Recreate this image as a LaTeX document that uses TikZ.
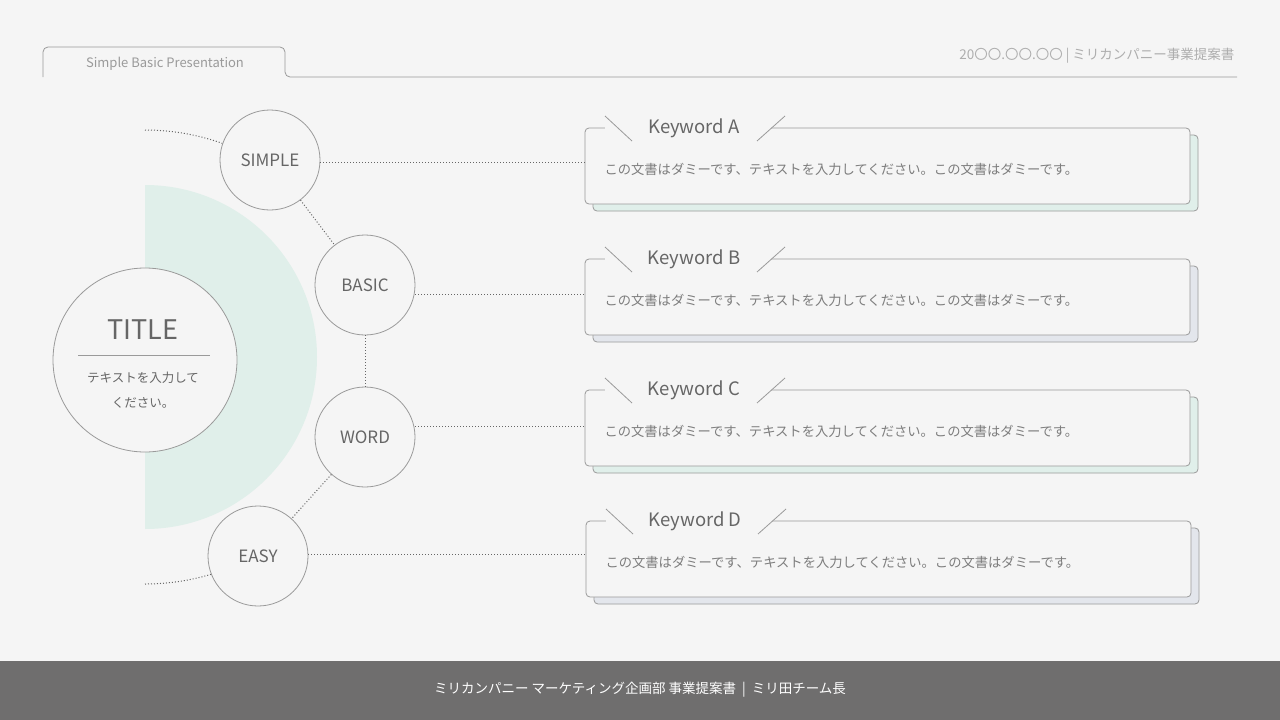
\documentclass[tikz,border=0pt]{standalone}
\usepackage{fontspec}
\setmainfont{Noto Sans CJK JP}
\definecolor{bg}{HTML}{F5F5F5}
\definecolor{mint}{HTML}{E0EFEA}
\definecolor{bluish}{HTML}{E3E6EC}
\definecolor{ln}{HTML}{9A9A9A}
\definecolor{tx}{HTML}{666666}
\definecolor{foot}{HTML}{6F6E6E}
\tikzset{
 kw/.style={draw=ln,line width=0.8pt,circle,minimum size=100pt,inner sep=0pt,font=\fontsize{17}{17}\selectfont,text=tx},
 dot/.style={draw=tx,dotted,line width=1pt},
 mainbox/.style={draw=ln,line width=0.8pt,fill=bg,rounded corners=4pt},
}
\begin{document}
\begin{tikzpicture}[x=1pt,y=-1pt]
\fill[bg] (0,0) rectangle (1280,720);
\useasboundingbox (0,0) rectangle (1280,720);
% header
\draw[ln,line width=0.8pt] (43,77) -- (43,52) arc[start angle=180,end angle=270,radius=5] -- (280,47) arc[start angle=-90,end angle=0,radius=5] -- (285,72) arc[start angle=180,end angle=90,radius=5] -- (1237,77);
\node[text=ln,font=\fontsize{13}{12}\selectfont] (hd) at (165,64) {Simple Basic Presentation};
\node[anchor=east,text=ln!80,font=\fontsize{13.5}{12}\selectfont] (hr) at (1238,56) {20〇〇.〇〇.〇〇 | ミリカンパニー事業提案書};
% half disc
\fill[mint] (145,185) arc[start angle=-90,end angle=90,radius=172] -- cycle;
% outer dotted arc ends
\draw[dot] (145,130) arc[start angle=-90,end angle=-62,radius=230];
\draw[dot] (145,584) arc[start angle=90,end angle=62,radius=230];
% title
\node[draw=ln,line width=0.8pt,fill=bg,circle,minimum size=184pt] (title) at (145,360) {};
\node[text=tx,font=\fontsize{27}{27}\selectfont] (tt) at (143,330) {TITLE};
\draw[ln,line width=0.8pt] (78,355) -- (210,355);
\node[text=tx,align=center,font=\fontsize{12.5}{25}\selectfont] (ts) at (143,390) {テキストを入力して\\ください。};
% keyword circles
\node[kw,fill=bg] (s) at (270,160) {SIMPLE};
\node[kw,fill=bg] (b) at (365,285) {BASIC};
\node[kw,fill=bg] (w) at (365,437) {WORD};
\node[kw,fill=bg] (e) at (258,556) {EASY};
\draw[dot] (s) -- (b); \draw[dot] (b) -- (w); \draw[dot] (w) -- (e);
% boxes
\foreach \n/\x/\y/\c/\t/\ly in {A/585/128/mint/s/162,B/585/259/bluish/b/294,C/585/390/mint/w/426,D/586/521/bluish/e/554}{
  \draw[ln,line width=0.8pt,fill=\c,rounded corners=4pt] (\x+8,\y+7) rectangle (\x+613,\y+83);
  \draw[mainbox] (\x,\y) rectangle (\x+605,\y+76);
  \fill[bg] (\x+20,\y-2) rectangle (\x+186,\y+2);
  \draw[ln,line width=0.8pt] (\x+20,\y-12) -- (\x+47,\y+13);
  \draw[ln,line width=0.8pt] (\x+172,\y+13) -- (\x+200,\y-12);
  \node[text=tx,font=\fontsize{18.5}{18}\selectfont] (k\n) at (\x+109,\y) {Keyword \n};
  \node[anchor=west,text=tx!85,font=\fontsize{13.3}{12}\selectfont] (d\n) at (\x+16,\y+41) {この文書はダミーです、テキストを入力してください。この文書はダミーです。};
  \coordinate (c\n) at (\x,\ly);
  \draw[dot] (\t.east |- c\n) -- (c\n);
}
% footer
\fill[foot] (0,661) rectangle (1280,720);
\node[text=white,font=\fontsize{13.5}{12}\selectfont] (ft) at (640,690) {ミリカンパニー マーケティング企画部 事業提案書 \ | \ ミリ田チーム長};
\end{tikzpicture}
\end{document}
